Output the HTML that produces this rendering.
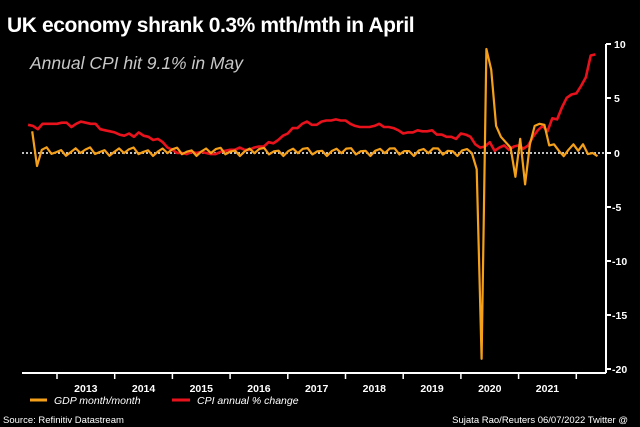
<!DOCTYPE html>
<html><head><meta charset="utf-8"><style>
html,body{margin:0;padding:0;background:#000;}
body{width:640px;height:427px;overflow:hidden;position:relative;font-family:"Liberation Sans",sans-serif;color:#fff;}
.t{position:absolute;white-space:nowrap;}
</style></head><body>
<div class="t" style="left:7px;top:14px;font-size:21px;font-weight:bold;letter-spacing:-0.4px;">UK economy shrank 0.3% mth/mth in April</div>
<div class="t" style="left:30px;top:53px;font-size:17.5px;font-style:italic;color:#c8c8c8;">Annual CPI hit 9.1% in May</div>
<svg id="c" width="640" height="427" style="position:absolute;left:0;top:0" xmlns="http://www.w3.org/2000/svg">
<g font-family="Liberation Sans, sans-serif" font-size="10.5" font-weight="bold" fill="#fff">
<line x1="606" y1="44" x2="606" y2="373" stroke="#fff" stroke-width="2"/>
<line x1="22" y1="373" x2="606" y2="373" stroke="#fff" stroke-width="2"/>
<g stroke="#fff" stroke-width="2">
<line x1="606" y1="44" x2="611" y2="44"/><line x1="606" y1="98" x2="611" y2="98"/><line x1="606" y1="153" x2="611" y2="153"/><line x1="606" y1="207" x2="611" y2="207"/><line x1="606" y1="261" x2="611" y2="261"/><line x1="606" y1="315" x2="611" y2="315"/><line x1="606" y1="369" x2="611" y2="369"/>
</g>
<text x="614" y="48">10</text><text x="614" y="102">5</text><text x="614" y="157">0</text><text x="612" y="211">-5</text><text x="612" y="265">-10</text><text x="612" y="319">-15</text><text x="612" y="373">-20</text>
<g id="ticks" stroke="#fff" stroke-width="1.5"></g>
<g id="yl" text-anchor="middle"></g>
<line x1="22" y1="153" x2="604" y2="153" stroke="#fff" stroke-width="1.6" stroke-dasharray="2,2"/>
<polyline id="cpi" fill="none" stroke="#e8121c" stroke-width="2.6" stroke-linejoin="round"/>
<polyline id="gdp" fill="none" stroke="#f5a01a" stroke-width="2.2" stroke-linejoin="round"/>
<line x1="30" y1="400" x2="47" y2="400" stroke="#f5a01a" stroke-width="3"/>
<text x="54" y="404" font-style="italic" font-weight="normal" font-size="10.5">GDP month/month</text>
<line x1="172" y1="400" x2="190" y2="400" stroke="#e8121c" stroke-width="3"/>
<text x="197" y="404" font-style="italic" font-weight="normal" font-size="10.5">CPI annual % change</text>
<text x="3" y="423" font-weight="normal" font-size="9.5">Source: Refinitiv Datastream</text>
<text x="628" y="423" font-weight="normal" font-size="9.5" text-anchor="end">Sujata Rao/Reuters 06/07/2022 Twitter @</text>
</g>
</svg>
<script>
var X=function(t){return 57+(t-2013)*57.7;},Y=function(v){return 153-v*10.83;};
var tk=document.getElementById('ticks'),yl=document.getElementById('yl'),ns='http://www.w3.org/2000/svg';
for(var y=2013;y<=2022;y++){var l=document.createElementNS(ns,'line');l.setAttribute('x1',X(y));l.setAttribute('x2',X(y));l.setAttribute('y1',373);l.setAttribute('y2',379);tk.appendChild(l);
if(y<2022){var t=document.createElementNS(ns,'text');t.setAttribute('x',X(y+0.5));t.setAttribute('y',392);t.textContent=y;yl.appendChild(t);}}
var cpi=[2.6,2.5,2.2,2.7,2.7,2.7,
2.7,2.8,2.8,2.4,2.7,2.9,2.8,2.7,2.7,2.2,2.1,2.0,
1.9,1.7,1.6,1.8,1.5,1.9,1.6,1.5,1.2,1.3,1.0,0.5,
0.3,0.0,0.0,-0.1,0.1,0.0,0.1,0.0,-0.1,-0.1,0.1,0.2,
0.3,0.3,0.5,0.3,0.3,0.5,0.6,0.6,1.0,0.9,1.2,1.6,
1.8,2.3,2.3,2.7,2.9,2.6,2.6,2.9,3.0,3.0,3.1,3.0,
3.0,2.7,2.5,2.4,2.4,2.4,2.5,2.7,2.4,2.4,2.3,2.1,
1.8,1.9,1.9,2.1,2.0,2.0,2.1,1.7,1.7,1.5,1.5,1.3,
1.8,1.7,1.5,0.8,0.5,0.6,1.0,0.2,0.5,0.7,0.3,0.6,
0.7,0.4,0.7,1.5,2.1,2.5,2.0,3.2,3.1,4.2,5.1,5.4,
5.5,6.2,7.0,9.0,9.1];
var gdp=[2.0,-1.2];
for(var i=0;i<90;i++){gdp.push(0.15+0.3*Math.sin(i*2.1)+0.15*Math.cos(i*0.7));}
gdp=gdp.concat([-1.5,-19.0,9.6,7.7,2.5,1.5,1.0,0.5,-2.2,1.3,-2.9,0.8,2.5,2.7,2.6,0.7,0.8,0.2,-0.3,0.3,0.8,0.2,0.8,-0.1,0.0,-0.3]);
function pts(a,off,sc){var s=[];for(var i=0;i<a.length;i++){s.push((off+(X(2012.5+i/12)-28)*sc+28).toFixed(1)+','+Y(a[i]).toFixed(1));}return s.join(' ');}
document.getElementById('cpi').setAttribute('points',pts(cpi,0,1));
document.getElementById('gdp').setAttribute('points',pts(gdp,4,1.005));
</script>
</body></html>
